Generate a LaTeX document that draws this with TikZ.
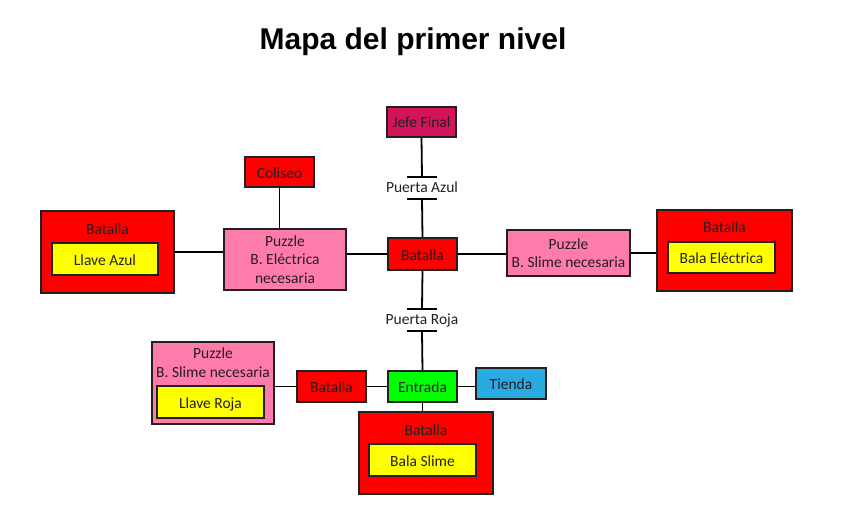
\documentclass[tikz,border=0pt]{standalone}
\usepackage{fontspec}
\setmainfont{Carlito}
\newfontfamily\titlefont{Liberation Sans}

\definecolor{cRojo}{HTML}{FF0000}
\definecolor{cRosa}{HTML}{FF7BAC}
\definecolor{cAmar}{HTML}{FFFF00}
\definecolor{cJefe}{HTML}{D4145A}
\definecolor{cVerde}{HTML}{00FF00}
\definecolor{cAzul}{HTML}{29ABE2}
\definecolor{cBorde}{HTML}{231F20}
\definecolor{cTexto}{HTML}{231F20}

\tikzstyle{caja} = [draw = cBorde, line width = 1.3pt, text = cTexto, inner sep = 0pt, align = center, text height = 12pt, text depth = 0pt, font = \fontsize{15.5}{18.5}\selectfont]
\tikzstyle{roja} = [caja, fill = cRojo]
\tikzstyle{rosa} = [caja, fill = cRosa, text height = {}, text depth = {}]
\tikzstyle{amar} = [caja, fill = cAmar]
\tikzstyle{rotulo} = [inner sep = 0pt, text = cTexto, align = center, font = \fontsize{15.5}{18.5}\selectfont]
\tikzstyle{linea} = [line width = 1.8pt, draw = black]

\begin{document}
\begin{tikzpicture}[x = 1pt, y = -1pt]
    \useasboundingbox (0,0) rectangle (841,527);

    \node [font = \titlefont\bfseries\fontsize{30}{36}\selectfont] (titulo) at (413,42) {Mapa del primer nivel};

    % centro
    \node [caja, fill = cJefe, minimum width = 69, minimum height = 30] (jefe) at (421.5,122) {Jefe Final};
    \node [roja, minimum width = 69, minimum height = 32] (bat) at (422.5,254) {Batalla};
    \node [caja, fill = cVerde, minimum width = 69, minimum height = 31] (entrada) at (422.5,386.5) {Entrada};
    \node [caja, fill = cAzul, minimum width = 70, minimum height = 31] (tienda) at (511,383.5) {Tienda};

    % puertas
    \coordinate (azulA) at (422,177);
    \coordinate (azulB) at (422,199);
    \node [rotulo] (pAzul) at (422,187.5) {Puerta Azul};
    \coordinate (rojaA) at (422,309);
    \coordinate (rojaB) at (422,331);
    \node [rotulo] (pRoja) at (422,320) {Puerta Roja};

    % izquierda
    \node [roja, minimum width = 69, minimum height = 30] (coliseo) at (279.5,172) {Coliseo};
    \node [rosa, minimum width = 122, minimum height = 61] (puzElec) at (285,259.5) {Puzzle\\B. Eléctrica\\necesaria};
    \node [roja, minimum width = 133, minimum height = 82] (batIzq) at (107.5,252) {};
    \node [rotulo] (batIzqT) at (107.5,229) {Batalla};
    \node [amar, minimum width = 106, minimum height = 32] (llaveAzul) at (105,259) {Llave Azul};

    % derecha
    \node [rosa, minimum width = 123, minimum height = 46] (puzSlime) at (568.5,253) {Puzzle\\B. Slime necesaria};
    \node [roja, minimum width = 135, minimum height = 81] (batDer) at (724.5,250.5) {};
    \node [rotulo] (batDerT) at (724.5,227) {Batalla};
    \node [amar, minimum width = 107, minimum height = 31] (balaElec) at (721.5,257.5) {Bala Eléctrica};

    % abajo
    \node [roja, minimum width = 69, minimum height = 31] (batB) at (331.5,386.5) {Batalla};
    \node [rosa, minimum width = 122, minimum height = 82] (puzRoja) at (213,383) {};
    \node [rotulo] (puzRojaT) at (213,362.5) {Puzzle\\B. Slime necesaria};
    \node [amar, minimum width = 107, minimum height = 32] (llaveRoja) at (210.5,402) {Llave Roja};
    \node [roja, minimum width = 134, minimum height = 82] (batAbajo) at (426,453) {};
    \node [rotulo] (batAbajoT) at (426,430) {Batalla};
    \node [amar, minimum width = 107, minimum height = 32] (balaSlime) at (422.5,460) {Bala Slime};

    % conexiones
    \draw [linea] (jefe.south) -- (azulA);
    \draw [linea] ([xshift = -15]azulA) -- ([xshift = 15]azulA);
    \draw [linea] ([xshift = -15]azulB) -- ([xshift = 15]azulB);
    \draw [linea] (azulB) -- (bat.north);
    \draw [linea] (bat.south) -- (rojaA);
    \draw [linea] ([xshift = -15]rojaA) -- ([xshift = 15]rojaA);
    \draw [linea] ([xshift = -15]rojaB) -- ([xshift = 15]rojaB);
    \draw [linea] (rojaB) -- (entrada.north);
    \draw [linea] (bat.west) -- (bat.west -| puzElec.east);
    \draw [linea] (batIzq.east) -- (batIzq.east -| puzElec.west);
    \draw [linea] (coliseo.south) -- (coliseo.south |- puzElec.north);
    \draw [linea] (bat.east) -- (bat.east -| puzSlime.west);
    \draw [linea] (puzSlime.east) -- (puzSlime.east -| batDer.west);
    \draw [linea] (entrada.east) -- (entrada.east -| tienda.west);
    \draw [linea] (entrada.west) -- (batB.east);
    \draw [linea] (batB.west) -- (batB.west -| puzRoja.east);
    \draw [linea] (entrada.south) -- (entrada.south |- batAbajo.north);
\end{tikzpicture}
\end{document}
